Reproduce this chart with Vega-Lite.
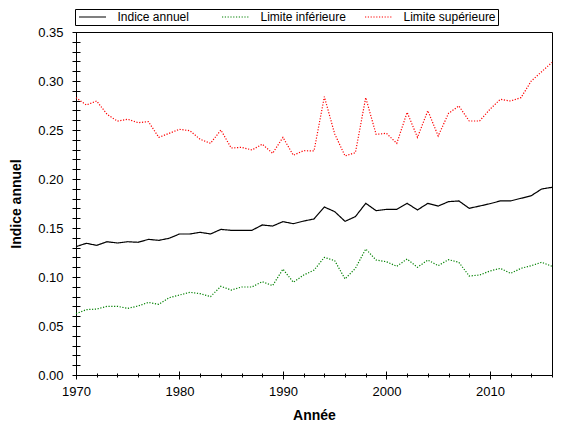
{
  "$schema": "https://vega.github.io/schema/vega-lite/v6.json",
  "width": 476,
  "height": 343,
  "autosize": {"type": "none"},
  "padding": {"left": 76, "top": 32, "right": 28, "bottom": 60},
  "background": "white",
  "data": {
    "values": [
      {"annee": 1970, "indice": 0.131, "inf": 0.0626, "sup": 0.283},
      {"annee": 1971, "indice": 0.1344, "inf": 0.0667, "sup": 0.2755},
      {"annee": 1972, "indice": 0.1323, "inf": 0.0673, "sup": 0.2796},
      {"annee": 1973, "indice": 0.136, "inf": 0.0701, "sup": 0.266},
      {"annee": 1974, "indice": 0.1347, "inf": 0.0701, "sup": 0.259},
      {"annee": 1975, "indice": 0.136, "inf": 0.068, "sup": 0.261},
      {"annee": 1976, "indice": 0.1354, "inf": 0.0704, "sup": 0.2575},
      {"annee": 1977, "indice": 0.1384, "inf": 0.0741, "sup": 0.2585},
      {"annee": 1978, "indice": 0.1374, "inf": 0.0721, "sup": 0.2425},
      {"annee": 1979, "indice": 0.1395, "inf": 0.0789, "sup": 0.2466},
      {"annee": 1980, "indice": 0.1439, "inf": 0.0816, "sup": 0.2507},
      {"annee": 1981, "indice": 0.1439, "inf": 0.0844, "sup": 0.2493},
      {"annee": 1982, "indice": 0.1456, "inf": 0.083, "sup": 0.2405},
      {"annee": 1983, "indice": 0.1439, "inf": 0.08, "sup": 0.2364},
      {"annee": 1984, "indice": 0.1486, "inf": 0.0905, "sup": 0.25},
      {"annee": 1985, "indice": 0.1476, "inf": 0.0867, "sup": 0.2316},
      {"annee": 1986, "indice": 0.1476, "inf": 0.0898, "sup": 0.2323},
      {"annee": 1987, "indice": 0.1476, "inf": 0.0898, "sup": 0.2296},
      {"annee": 1988, "indice": 0.1531, "inf": 0.0952, "sup": 0.2355},
      {"annee": 1989, "indice": 0.152, "inf": 0.0912, "sup": 0.2262},
      {"annee": 1990, "indice": 0.1565, "inf": 0.108, "sup": 0.2425},
      {"annee": 1991, "indice": 0.1544, "inf": 0.0946, "sup": 0.2242},
      {"annee": 1992, "indice": 0.1571, "inf": 0.102, "sup": 0.2289},
      {"annee": 1993, "indice": 0.1592, "inf": 0.107, "sup": 0.2286},
      {"annee": 1994, "indice": 0.1714, "inf": 0.12, "sup": 0.284},
      {"annee": 1995, "indice": 0.1667, "inf": 0.1167, "sup": 0.246},
      {"annee": 1996, "indice": 0.1568, "inf": 0.098, "sup": 0.2235},
      {"annee": 1997, "indice": 0.1616, "inf": 0.1088, "sup": 0.2269},
      {"annee": 1998, "indice": 0.1752, "inf": 0.1286, "sup": 0.283},
      {"annee": 1999, "indice": 0.1677, "inf": 0.1173, "sup": 0.2456},
      {"annee": 2000, "indice": 0.169, "inf": 0.1156, "sup": 0.2466},
      {"annee": 2001, "indice": 0.169, "inf": 0.1109, "sup": 0.2364},
      {"annee": 2002, "indice": 0.1752, "inf": 0.1184, "sup": 0.268},
      {"annee": 2003, "indice": 0.1684, "inf": 0.1099, "sup": 0.2425},
      {"annee": 2004, "indice": 0.1752, "inf": 0.1173, "sup": 0.2697},
      {"annee": 2005, "indice": 0.1724, "inf": 0.1116, "sup": 0.2439},
      {"annee": 2006, "indice": 0.1769, "inf": 0.1177, "sup": 0.267},
      {"annee": 2007, "indice": 0.1776, "inf": 0.115, "sup": 0.2745},
      {"annee": 2008, "indice": 0.1701, "inf": 0.101, "sup": 0.2592},
      {"annee": 2009, "indice": 0.1724, "inf": 0.102, "sup": 0.2592},
      {"annee": 2010, "indice": 0.1748, "inf": 0.1061, "sup": 0.2711},
      {"annee": 2011, "indice": 0.1776, "inf": 0.1088, "sup": 0.2813},
      {"annee": 2012, "indice": 0.1776, "inf": 0.1037, "sup": 0.2796},
      {"annee": 2013, "indice": 0.1803, "inf": 0.1088, "sup": 0.283},
      {"annee": 2014, "indice": 0.183, "inf": 0.1116, "sup": 0.3},
      {"annee": 2015, "indice": 0.1898, "inf": 0.115, "sup": 0.3095},
      {"annee": 2016, "indice": 0.1915, "inf": 0.1109, "sup": 0.319}
    ]
  },
  "transform": [
    {"fold": ["indice", "inf", "sup"], "as": ["serie", "valeur"]}
  ],
  "layer": [
    {
      "mark": {"type": "line", "strokeWidth": 1.2},
      "encoding": {
        "x": {
          "field": "annee",
          "type": "quantitative",
          "scale": {"domain": [1970, 2016], "nice": false, "zero": false},
          "axis": {
            "title": "Année",
            "values": [1970, 1972, 1974, 1976, 1978, 1980, 1982, 1984, 1986, 1988, 1990, 1992, 1994, 1996, 1998, 2000, 2002, 2004, 2006, 2008, 2010, 2012, 2014, 2016],
            "format": "d",
            "labelExpr": "datum.value % 10 === 0 ? datum.label : ''",
            "tickSize": {"condition": {"test": "datum.value % 10 === 0", "value": 4}, "value": 2},
            "labelPadding": 6,
            "titlePadding": 10
          }
        },
        "y": {
          "field": "valeur",
          "type": "quantitative",
          "scale": {"domain": [0, 0.35], "nice": false},
          "axis": {
            "title": "Indice annuel",
            "values": [0, 0.01, 0.02, 0.03, 0.04, 0.05, 0.06, 0.07, 0.08, 0.09, 0.1, 0.11, 0.12, 0.13, 0.14, 0.15, 0.16, 0.17, 0.18, 0.19, 0.2, 0.21, 0.22, 0.23, 0.24, 0.25, 0.26, 0.27, 0.28, 0.29, 0.3, 0.31, 0.32, 0.33, 0.34, 0.35],
            "labelExpr": "round(datum.value * 100) % 5 === 0 ? format(datum.value, '.2f') : ''",
            "tickSize": 4,
            "labelPadding": 9,
            "titlePadding": 14
          }
        },
        "color": {
          "field": "serie",
          "type": "nominal",
          "scale": {"domain": ["indice", "inf", "sup"], "range": ["#000000", "#008000", "#ff0000"]},
          "legend": {
            "gridAlign": "all",
            "labelExpr": "datum.label === 'indice' ? 'Indice annuel' : datum.label === 'inf' ? 'Limite inférieure' : 'Limite supérieure'"
          }
        },
        "strokeDash": {
          "field": "serie",
          "type": "nominal",
          "scale": {"domain": ["indice", "inf", "sup"], "range": [[1, 0], [1.2, 1.6], [1.2, 1.6]]},
          "legend": {
            "gridAlign": "all",
            "labelExpr": "datum.label === 'indice' ? 'Indice annuel' : datum.label === 'inf' ? 'Limite inférieure' : 'Limite supérieure'"
          }
        }
      }
    },
    {
      "mark": {"type": "line", "opacity": 0},
      "encoding": {
        "x": {
          "field": "annee",
          "type": "quantitative",
          "axis": {
            "orient": "bottom",
            "title": null,
            "labels": false,
            "domain": false,
            "values": [1970, 1972, 1974, 1976, 1978, 1980, 1982, 1984, 1986, 1988, 1990, 1992, 1994, 1996, 1998, 2000, 2002, 2004, 2006, 2008, 2010, 2012, 2014, 2016],
            "tickSize": {"condition": {"test": "datum.value % 10 === 0", "value": -4}, "value": -2}
          }
        },
        "y": {
          "field": "valeur",
          "type": "quantitative",
          "axis": {
            "orient": "left",
            "title": null,
            "labels": false,
            "domain": false,
            "values": [0, 0.01, 0.02, 0.03, 0.04, 0.05, 0.06, 0.07, 0.08, 0.09, 0.1, 0.11, 0.12, 0.13, 0.14, 0.15, 0.16, 0.17, 0.18, 0.19, 0.2, 0.21, 0.22, 0.23, 0.24, 0.25, 0.26, 0.27, 0.28, 0.29, 0.3, 0.31, 0.32, 0.33, 0.34, 0.35],
            "tickSize": -4
          }
        },
        "detail": {"field": "serie", "type": "nominal"}
      }
    }
  ],
  "resolve": {"axis": {"x": "independent", "y": "independent"}},
  "config": {
    "font": "Liberation Sans",
    "view": {"stroke": "#000000", "strokeWidth": 1},
    "axis": {
      "grid": false,
      "domainColor": "#000000",
      "tickColor": "#000000",
      "labelColor": "#000000",
      "titleColor": "#000000",
      "labelFont": "Liberation Sans",
      "labelFontSize": 13,
      "titleFont": "Liberation Sans",
      "titleFontSize": 14,
      "titleFontWeight": "bold",
      "labelFlush": false,
      "labelOverlap": false,
      "labelBound": false
    },
    "legend": {
      "orient": "none",
      "legendX": -1,
      "legendY": -23,
      "direction": "horizontal",
      "title": null,
      "gridAlign": "all",
      "columnPadding": 9,
      "padding": 2,
      "strokeColor": "#000000",
      "fillColor": "white",
      "labelFont": "Liberation Sans",
      "labelFontSize": 12,
      "labelColor": "#000000",
      "symbolType": "M-4,0H4",
      "symbolSize": 45.5625,
      "symbolStrokeWidth": 1.2,
      "symbolOffset": 9.5,
      "labelOffset": 19
    }
  }
}
